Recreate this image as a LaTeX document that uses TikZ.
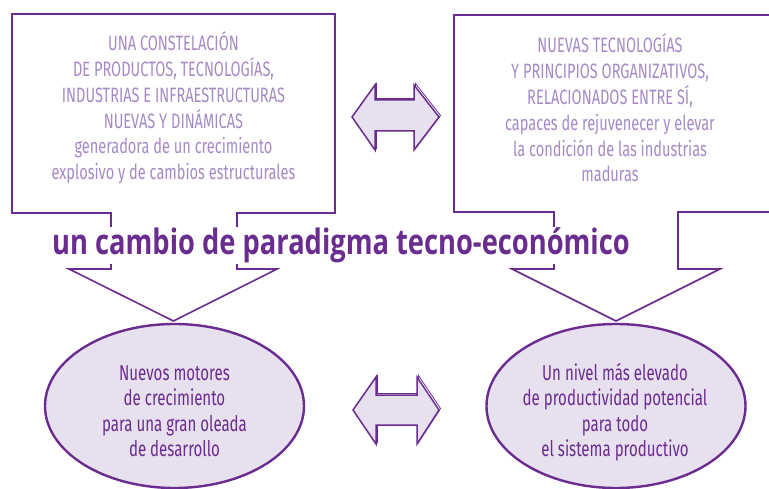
\documentclass[tikz,border=0pt]{standalone}
\usepackage{fontspec}
\usepackage{tikz}
\usetikzlibrary{shapes.geometric}
\newfontfamily\boxfont[FakeStretch=0.7]{Fira Sans}
\newfontfamily\headfont[FakeStretch=0.78]{Open Sans}
\definecolor{violeta}{HTML}{6A2C8E}
\definecolor{lila}{HTML}{A58AC5}
\definecolor{lilafondo}{HTML}{E7E0EF}

\begin{document}
\begin{tikzpicture}[x=1pt, y=-1pt,
      callout/.style={draw=violeta, line width=1.6pt, line join=miter},
      boxtxt/.style={align=center, text=lila, font=\boxfont\fontsize{20.8}{25.8}\selectfont},
      oval/.style={ellipse, draw=violeta, line width=2.4pt, fill=lilafondo, minimum width=259pt, minimum height=164pt, inner sep=0pt},
      ovaltxt/.style={align=center, text=violeta, font=\boxfont\fontsize{21.5}{25.5}\selectfont},
      dblarr/.style={draw=violeta, line width=1.5pt, fill=lilafondo, line join=miter}
    ]
    \useasboundingbox (0,0) rectangle (769,489);

    % Top row: two callout boxes, stems pointing down
    \draw[callout] (12,14) -- (335,14) -- (335,213) -- (237,213) -- (237,269) -- (277,269)
      -- (173.5,321) -- (69,269) -- (111,269) -- (111,213) -- (12,213) -- cycle;
    \draw[callout] (454,15) -- (800,15) -- (800,212) -- (678,212) -- (678,269) -- (720,269)
      -- (616,321) -- (512,269) -- (554,269) -- (554,212) -- (454,212) -- cycle;

    \node[boxtxt] (constelacion) at (173.5,108) {UNA CONSTELACIÓN\\DE PRODUCTOS, TECNOLOGÍAS,\\INDUSTRIAS E INFRAESTRUCTURAS\\NUEVAS Y DINÁMICAS\\generadora de un crecimiento\\explosivo y de cambios estructurales};
    \node[boxtxt] (tecnologias) at (610,108) {NUEVAS TECNOLOGÍAS\\Y PRINCIPIOS ORGANIZATIVOS,\\RELACIONADOS ENTRE SÍ,\\capaces de rejuvenecer y elevar\\la condición de las industrias\\maduras};

    % Middle: title over the stems
    \node[fill=white, inner xsep=0pt, inner ysep=1pt, anchor=base, text=violeta,
      font=\headfont\bfseries\fontsize{35}{35}\selectfont] (paradigma) at (341,255) {un cambio de paradigma tecno-económico};

    % Bottom row: two ovals
    \node[oval] (motores) at (174.5,406) {};
    \node[ovaltxt] (motorestxt) at (174.5,411) {Nuevos motores\\de crecimiento\\para una gran oleada\\de desarrollo};
    \node[oval] (nivel) at (616,406) {};
    \node[ovaltxt] (niveltxt) at (615,412) {Un nivel más elevado\\de productividad potencial\\para todo\\el sistema productivo};

    % Double arrows between the columns
    \draw[dblarr, fill=none, line width=0.8pt, shift={(1.5,-1.5)}] (352,117) -- (375,85) -- (375,100) -- (414,100) -- (414,85)
      -- (439,117) -- (414,150) -- (414,131) -- (375,131) -- (375,150) -- cycle;
    \draw[dblarr] (352,117) -- (375,85) -- (375,100) -- (414,100) -- (414,85)
      -- (439,117) -- (414,150) -- (414,131) -- (375,131) -- (375,150) -- cycle;
    \draw[dblarr, fill=none, line width=0.8pt, shift={(1.5,-1.5)}] (353,410) -- (376,377) -- (376,395) -- (417,395) -- (417,377)
      -- (439,410) -- (417,444) -- (417,425) -- (376,425) -- (376,444) -- cycle;
    \draw[dblarr] (353,410) -- (376,377) -- (376,395) -- (417,395) -- (417,377)
      -- (439,410) -- (417,444) -- (417,425) -- (376,425) -- (376,444) -- cycle;
  \end{tikzpicture}
\end{document}
